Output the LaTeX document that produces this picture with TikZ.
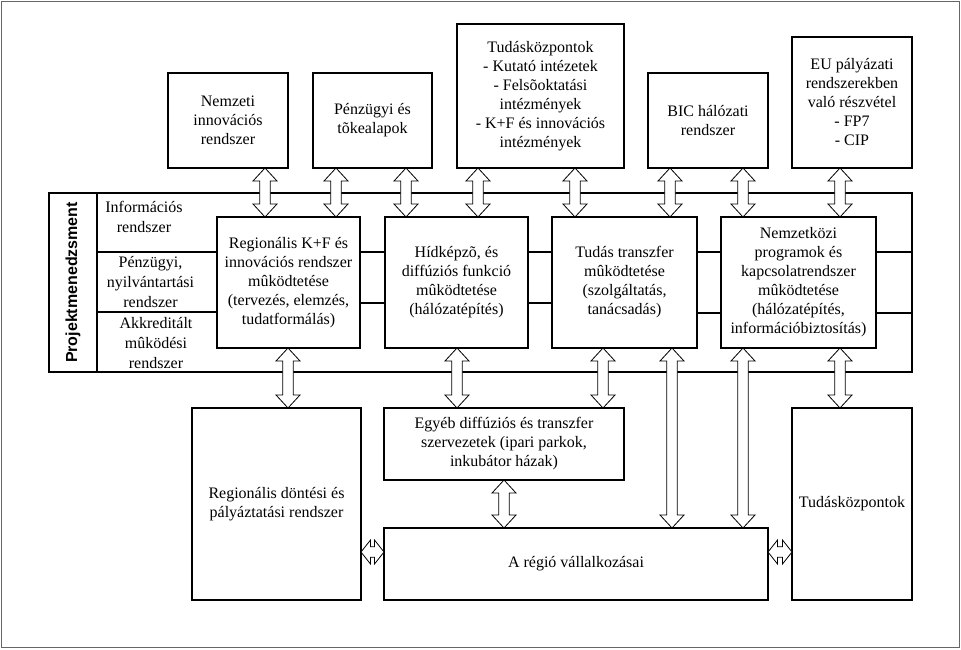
\documentclass[tikz,border=0pt]{standalone}
\usepackage{fontspec}
\setmainfont{Liberation Serif}
\newfontfamily\pmfont{Liberation Sans}
\usetikzlibrary{calc}
\tikzset{
  box/.style={draw, line width=1.15pt, inner sep=0pt, outer sep=0pt, align=center,
    font=\fontsize{16}{19}\selectfont},
  dbl/.style={draw, fill=white, line width=0.8pt, line join=miter},
  bus/.style={line width=1.1pt},
  lbl/.style={align=center, inner sep=0pt, font=\fontsize{16}{20}\selectfont},
}
% vertical hollow double arrow: x, upper node, lower node
\newcommand{\vdbl}[3]{%
  \draw[dbl] let \p1=(#2.south), \p2=(#3.north) in
    (#1pt,\y1) -- ({#1pt+12pt},{\y1-13pt}) -- ({#1pt+5.3pt},{\y1-13pt})
    -- ({#1pt+5.3pt},{\y2+13pt}) -- ({#1pt+12pt},{\y2+13pt}) -- (#1pt,\y2)
    -- ({#1pt-12pt},{\y2+13pt}) -- ({#1pt-5.3pt},{\y2+13pt})
    -- ({#1pt-5.3pt},{\y1-13pt}) -- ({#1pt-12pt},{\y1-13pt}) -- cycle;}
% horizontal hollow double arrow: y, left node, right node
\newcommand{\hdbl}[3]{%
  \draw[dbl] let \p1=(#2.east), \p2=(#3.west) in
    (\x1,-#1pt) -- ({\x1+9.5pt},{-#1pt+12pt}) -- ({\x1+9.5pt},{-#1pt+5.3pt})
    -- ({\x2-9.5pt},{-#1pt+5.3pt}) -- ({\x2-9.5pt},{-#1pt+12pt}) -- (\x2,-#1pt)
    -- ({\x2-9.5pt},{-#1pt-12pt}) -- ({\x2-9.5pt},{-#1pt-5.3pt})
    -- ({\x1+9.5pt},{-#1pt-5.3pt}) -- ({\x1+9.5pt},{-#1pt-12pt}) -- cycle;}
\begin{document}
\begin{tikzpicture}[x=1pt,y=-1pt]
\useasboundingbox (0,0) rectangle (961,649);
\draw[line width=1.5pt, black!60] (1.5,1.5) rectangle (959.5,647.5);

% frame of the project management band
\draw[bus] (49,193) rectangle (912,372);
\draw[bus] (97,193) -- (97,372);
\draw[bus] (97,252) -- (217,252);
\draw[bus] (97,312) -- (217,312);
\draw[bus] (360,252) -- (385,252);
\draw[bus] (360,303) -- (385,303);
\draw[bus] (528,252) -- (552,252);
\draw[bus] (528,303) -- (552,303);
\draw[bus] (697,252) -- (721,252);
\draw[bus] (697,313) -- (721,313);
\draw[bus] (876,252) -- (912,252);
\draw[bus] (876,313) -- (912,313);

\node[rotate=90, inner sep=0pt, font=\pmfont\bfseries\fontsize{16}{19}\selectfont] (pm) at (73,282.5) {Projektmenedzsment};
\node[lbl] (l1) at (144,217) {Információs\\rendszer};
\node[lbl] (l2) at (150.5,282) {Pénzügyi,\\nyilvántartási\\rendszer};
\node[lbl] (l3) at (156,343) {Akkreditált\\mûködési\\rendszer};

% top boxes
\node[box, minimum width=120, minimum height=95] (T1) at (228,120.5) {Nemzeti\\innovációs\\rendszer};
\node[box, minimum width=119, minimum height=95] (T2) at (372.5,120.5) {Pénzügyi és\\tõkealapok};
\node[box, minimum width=167, minimum height=144] (T3) at (540.5,96) {Tudásközpontok\\- Kutató intézetek\\- Felsõoktatási\\intézmények\\- K+F és innovációs\\intézmények};
\node[box, minimum width=120, minimum height=95] (T4) at (708,120.5) {BIC hálózati\\rendszer};
\node[box, minimum width=120, minimum height=131] (T5) at (852,102.5) {EU pályázati\\rendszerekben\\való részvétel\\- FP7\\- CIP};

% middle boxes
\node[box, fill=white, minimum width=143, minimum height=131] (B1) at (288.5,282.5) {Regionális K+F és\\innovációs rendszer\\mûködtetése\\(tervezés, elemzés,\\tudatformálás)};
\node[box, fill=white, minimum width=143, minimum height=131] (B2) at (456.5,282.5) {Hídképzõ, és\\diffúziós funkció\\mûködtetése\\(hálózatépítés)};
\node[box, fill=white, minimum width=145, minimum height=131] (B3) at (624.5,282.5) {Tudás transzfer\\mûködtetése\\(szolgáltatás,\\tanácsadás)};
\node[box, fill=white, minimum width=155, minimum height=131] (B4) at (798.5,282.5) {Nemzetközi\\programok és\\kapcsolatrendszer\\mûködtetése\\(hálózatépítés,\\információbiztosítás)};

% bottom boxes
\node[box, minimum width=169, minimum height=192] (L) at (276.5,504) {Regionális döntési és\\pályáztatási rendszer};
\node[box, minimum width=240, minimum height=72] (E) at (504,444) {Egyéb diffúziós és transzfer\\szervezetek (ipari parkok,\\inkubátor házak)};
\node[box, minimum width=384, minimum height=72] (R) at (576,564) {A régió vállalkozásai};
\node[box, minimum width=120, minimum height=192] (K) at (852,504) {Tudásközpontok};

% arrows top
\vdbl{265}{T1}{B1}
\vdbl{336}{T2}{B1}
\vdbl{406}{T2}{B2}
\vdbl{478}{T3}{B2}
\vdbl{575}{T3}{B3}
\vdbl{670}{T4}{B3}
\vdbl{743}{T4}{B4}
\vdbl{840}{T5}{B4}
% arrows bottom
\vdbl{288}{B1}{L}
\vdbl{457}{B2}{E}
\vdbl{603}{B3}{E}
\vdbl{672}{B3}{R}
\vdbl{743}{B4}{R}
\vdbl{840}{B4}{K}
\vdbl{504}{E}{R}
\hdbl{552}{L}{R}
\hdbl{552}{R}{K}
\end{tikzpicture}
\end{document}
